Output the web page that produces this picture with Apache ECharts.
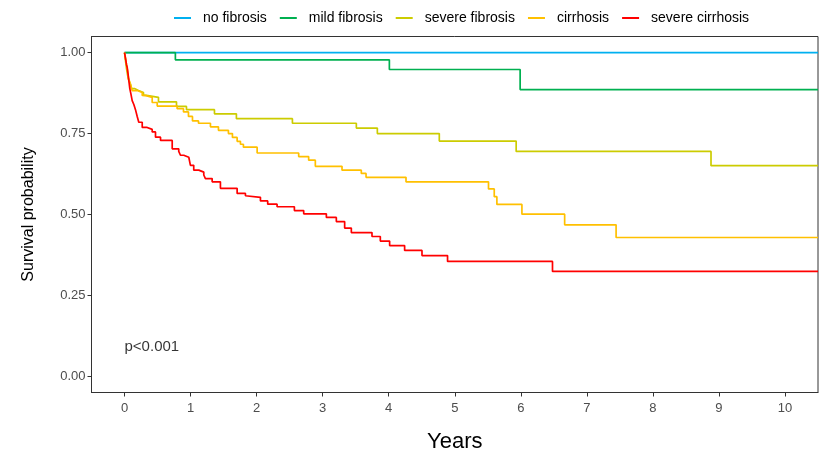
<!DOCTYPE html>
<html><head><meta charset="utf-8">
<script src="https://cdn.jsdelivr.net/npm/echarts@6/dist/echarts.min.js"></script>
<style>html,body{margin:0;padding:0;background:#fff}#c{width:828px;height:452px}</style>
</head><body><div id="c"></div>
<script>
// Kaplan-Meier step data: [time (years), survival probability], value after the drop at that time
const seriesNames = ['no fibrosis','mild fibrosis','severe fibrosis','cirrhosis','severe cirrhosis'];
const noFibrosis = [[0,1],[10.5,1]];
const mildFibrosis = [[0,1],[0.77,0.978],[4.01,0.948],[5.99,0.886],[10.5,0.886]];
const severeFibrosis = [[0,1],[0.015,0.975],[0.03,0.951],[0.045,0.932],[0.06,0.917],[0.09,0.902],[0.106,0.889],
  [0.151,0.883],[0.212,0.877],[0.287,0.868],[0.333,0.862],[0.514,0.848],[0.787,0.834],[0.938,0.824],
  [1.362,0.811],[1.694,0.796],[2.542,0.782],[3.51,0.767],[3.828,0.75],[4.766,0.727],[5.93,0.695],
  [8.88,0.651],[10.5,0.651]];
const cirrhosis = [[0,1],[0.015,0.982],[0.03,0.963],[0.045,0.945],[0.061,0.92],[0.091,0.902],[0.116,0.883],
  [0.192,0.877],[0.268,0.868],[0.313,0.862],[0.419,0.846],[0.495,0.835],[0.797,0.827],[0.893,0.817],
  [0.968,0.803],[1.029,0.789],[1.12,0.782],[1.301,0.771],[1.422,0.76],[1.573,0.75],[1.634,0.738],
  [1.705,0.726],[1.755,0.717],[1.8,0.708],[2.008,0.69],[2.637,0.679],[2.788,0.668],[2.889,0.649],
  [3.293,0.637],[3.585,0.627],[3.657,0.615],[4.262,0.601],[5.511,0.579],[5.598,0.555],[5.638,0.531],
  [6.017,0.501],[6.664,0.468],[7.443,0.429],[10.5,0.429]];
const severeCirrhosis = [[0,1],[0.015,0.982],[0.03,0.963],[0.041,0.954],[0.053,0.935],[0.065,0.914],[0.08,0.889],
  [0.098,0.871],[0.116,0.852],[0.141,0.84],[0.166,0.824],[0.192,0.803],[0.216,0.785],[0.268,0.769],
  [0.343,0.763],[0.419,0.755],[0.469,0.739],[0.545,0.729],[0.722,0.703],[0.821,0.695],[0.847,0.683],
  [0.897,0.677],[0.973,0.671],[0.998,0.652],[1.048,0.637],[1.124,0.631],[1.2,0.622],[1.225,0.611],
  [1.327,0.601],[1.452,0.581],[1.705,0.565],[1.831,0.558],[1.861,0.553],[2.058,0.542],[2.168,0.532],
  [2.31,0.524],[2.572,0.512],[2.713,0.502],[3.056,0.491],[3.207,0.478],[3.333,0.458],[3.434,0.444],
  [3.747,0.432],[3.873,0.418],[4.014,0.404],[4.241,0.389],[4.504,0.373],[4.891,0.355],[6.48,0.324],
  [10.5,0.324]];
const colors = ['#00B0F0','#00B050','#CCCC00','#FFC000','#FF0000'];
const xTicks = [0,1,2,3,4,5,6,7,8,9,10];
const yTicks = [0,0.25,0.5,0.75,1];
const pValueText = 'p<0.001';
const pValuePos = [0, 0.09];

const allData = [noFibrosis, mildFibrosis, severeFibrosis, cirrhosis, severeCirrhosis];
const font = "'Liberation Sans', Arial, sans-serif";
const chart = echarts.init(document.getElementById('c'), null, {renderer:'canvas'});
const series = allData.map((d,i)=>({
  name: seriesNames[i], type:'line', step:'end', data:d, showSymbol:false, symbol:'none',
  lineStyle:{color:colors[i], width:1.7}, itemStyle:{color:colors[i]}, animation:false, z: 2+i
}));
series.push({
  type:'scatter', data:[pValuePos], symbolSize:0, silent:true, animation:false,
  label:{show:true, formatter:pValueText, position:'right', distance:0, color:'#000', fontSize:15, fontFamily:font}
});
chart.setOption({
  backgroundColor:'#fff',
  animation:false,
  textStyle:{fontFamily:font},
  legend:{
    data: seriesNames, top:6, left:169, icon:'rect', itemWidth:17, itemHeight:2, itemGap:13,
    textStyle:{fontSize:14, color:'#000', fontFamily:font, padding:[0,0,0,7]}
  },
  grid:{left:91.5, right:10, top:36.5, bottom:59.5, show:true, borderColor:'#333', borderWidth:1,
    containLabel:false, outerBoundsMode:'none'},
  xAxis:{
    type:'value', min:-0.5, max:10.5,
    name:'Years', nameLocation:'middle', nameGap:38,
    nameTextStyle:{fontSize:22, color:'#000', fontFamily:font},
    axisLine:{show:true, onZero:false, lineStyle:{color:'#333', width:1}},
    axisTick:{show:true, customValues:xTicks, length:4, lineStyle:{color:'#333'}},
    axisLabel:{customValues:xTicks, color:'#4d4d4d', fontSize:13, margin:9, fontFamily:font},
    splitLine:{show:false}
  },
  yAxis:{
    type:'value', min:-0.05, max:1.05,
    name:'Survival probability', nameLocation:'middle', nameGap:55, nameRotate:90,
    nameTextStyle:{fontSize:16, color:'#000', fontFamily:font},
    axisLine:{show:true, onZero:false, lineStyle:{color:'#333', width:1}},
    axisTick:{show:true, customValues:yTicks, length:4, lineStyle:{color:'#333'}},
    axisLabel:{customValues:yTicks, color:'#4d4d4d', fontSize:13, margin:6, fontFamily:font,
      formatter:v=>v.toFixed(2)},
    splitLine:{show:false}
  },
  series: series
});
</script></body></html>
